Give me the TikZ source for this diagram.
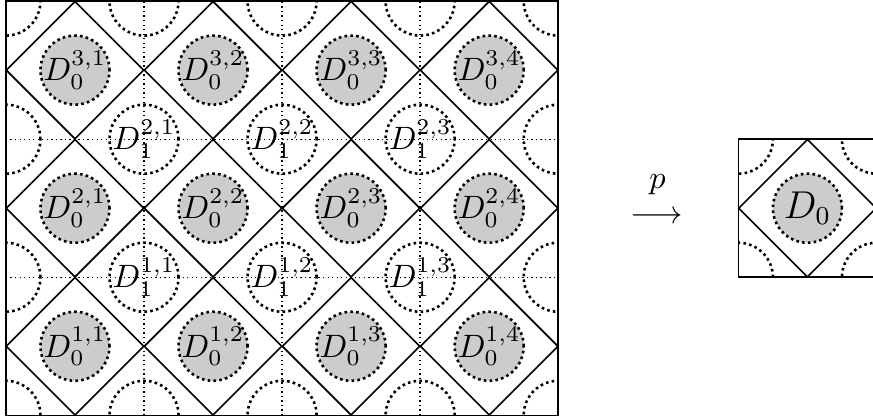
\documentclass[tikz,border=0pt]{standalone}
\usetikzlibrary{shapes.geometric}
\tikzset{
  cell/.style={diamond,draw,line width=.5pt,minimum size=1.5cm,inner sep=0pt},
  disc/.style={circle,draw,densely dotted,line width=.8pt,minimum size=.75cm,inner sep=0pt},
  fund/.style={disc,fill=black!20},
  rim/.style={densely dotted,line width=.8pt},
  guide/.style={densely dotted,line width=.4pt},
  frame/.style={line width=.5pt}
}
\begin{document}
\begin{tikzpicture}[x=1.5cm,y=1.5cm]
  \useasboundingbox (-0.043,-0.02) rectangle (6.28,3.008);
  % the covering: boundary arcs first
  \begin{scope}
    \clip (0,0) rectangle (4,3);
    \foreach \x in {0,...,4} \foreach \y in {0,3} \draw[rim] (\x,\y) circle (.25);
    \foreach \y in {1,2} \foreach \x in {0,4} \draw[rim] (\x,\y) circle (.25);
  \end{scope}
  \foreach \x in {1,2,3} \draw[guide] (\x,0) -- (\x,3);
  \foreach \y in {1,2} \draw[guide] (0,\y) -- (4,\y);
  \foreach \r in {1,2,3} \foreach \c in {1,...,4} {
    \node[cell] (cell-\r-\c) at (\c-.5,\r-.5) {};
    \node[fund,label={center:$D_0^{\r,\c}$}] (D0-\r-\c) at (cell-\r-\c) {};
  }
  \foreach \r in {1,2} \foreach \c in {1,2,3}
    \node[disc,label={center:$D_1^{\r,\c}$}] (D1-\r-\c) at (\c,\r) {};
  \draw[frame] (0,0) rectangle (4,3);
  % the projection
  \node[inner sep=0pt] (map) at (4.714,1.43) {$\longrightarrow$};
  \node[inner sep=0pt] (p) at (4.72,1.67) {$p$};
  % the quotient
  \begin{scope}[shift={(5.305,1)}]
    \clip (0,0) rectangle (1,1);
    \foreach \x in {0,1} \foreach \y in {0,1} \draw[rim] (\x,\y) circle (.25);
  \end{scope}
  \node[cell] (cell) at (5.805,1.5) {};
  \node[fund,label={center:\large$D_0$}] (D0) at (cell) {};
  \draw[frame] (5.305,1) rectangle (6.305,2);
\end{tikzpicture}
\end{document}
